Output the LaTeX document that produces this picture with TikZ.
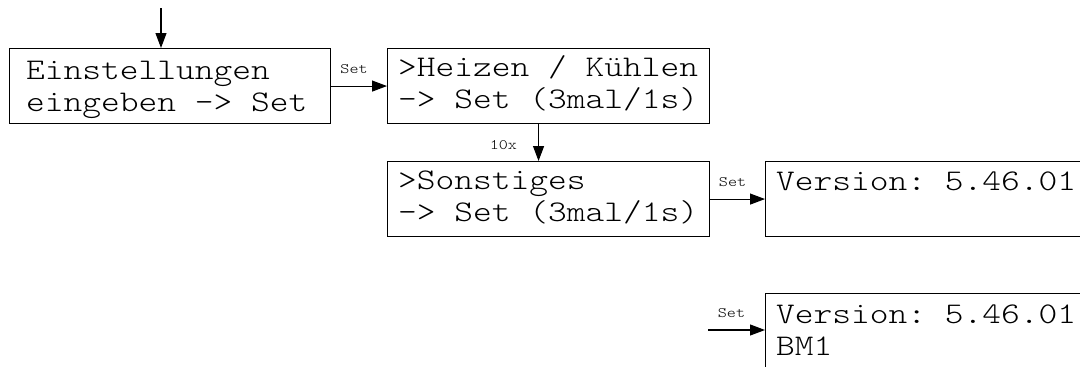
\documentclass[tikz,border=0pt]{standalone}
\usepackage{fontspec}
% light slab-serif typewriter face, widened to the display's character pitch
\newfontfamily\lcdfont{lmmonolt10-regular}[Extension=.otf, FakeStretch=1.19]
\usetikzlibrary{arrows.meta}

% two stacked display lines; the baseline is that of the first line
\newcommand{\lcdlines}[2]{\vtop{\baselineskip=32pt\hbox{#1}\hbox{#2}}}

\begin{document}
\frenchspacing
\begin{tikzpicture}[x=1pt,y=-1pt,
  screen/.style={draw=black, line width=1.1pt, rectangle, inner sep=0pt,
                 anchor=north west, minimum height=75pt},
  lcd/.style={inner sep=0pt, anchor=base west,
              font=\lcdfont\fontsize{30}{32}\selectfont},
  keyfont/.style={font=\lcdfont\fontsize{14.5}{15}\selectfont},
  keylabel/.style={keyfont, inner sep=0pt, anchor=base, xshift=-5pt, yshift=13pt},
  flow/.style={line width=1.1pt, -{Triangle[length=15pt,width=11pt]}}]

\useasboundingbox (0,0) rectangle (1080,367);
\clip (0,0) rectangle (1080,367);

% menu screens
\node[screen, minimum width=321pt] (b1) at (9,48) {};
\node[screen, minimum width=322pt] (b2) at (387,48) {};
\node[screen, minimum width=322pt] (b3) at (387,161) {};
\node[screen, minimum width=340pt] (b4) at (765,161) {};
\node[screen, minimum width=340pt, minimum height=110pt] (b5) at (765,293) {};

% screen contents
\node[lcd] (t1) at ([xshift=17pt,yshift=-31pt]b1.north west)
  {\lcdlines{Einstellungen}{eingeben -> Set}};
\node[lcd] (t2) at ([xshift=11pt,yshift=-28pt]b2.north west)
  {\lcdlines{>Heizen / Kühlen}{-> Set (3mal/1s)}};
\node[lcd] (t3) at ([xshift=11pt,yshift=-28pt]b3.north west)
  {\lcdlines{>Sonstiges}{-> Set (3mal/1s)}};
\node[lcd] (t4) at ([xshift=11pt,yshift=-29pt]b4.north west)
  {\lcdlines{Version: 5.46.01}{}};
\node[lcd] (t5) at ([xshift=11pt,yshift=-30pt]b5.north west)
  {\lcdlines{Version: 5.46.01}{BM1}};

% entry and transitions
\coordinate (entry) at (161,8);
\draw[flow] (entry) -- (entry |- b1.north);

\draw[flow] (b1.east) -- node[keylabel] (l12) {Set} (b2.west);

\draw[flow] ([xshift=-10pt]b2.south) --
  node[keyfont, pos=0.68, inner sep=0pt, anchor=base east, xshift=-21pt] (l23) {10x}
  ([xshift=-10pt]b3.north);

\draw[flow] (b3.east) -- node[keylabel] (l34) {Set} (b4.west);

\coordinate (in5) at (708,330);
\draw[flow] (in5) -- node[keylabel] (l5) {Set} (in5 -| b5.west);

\end{tikzpicture}
\end{document}
